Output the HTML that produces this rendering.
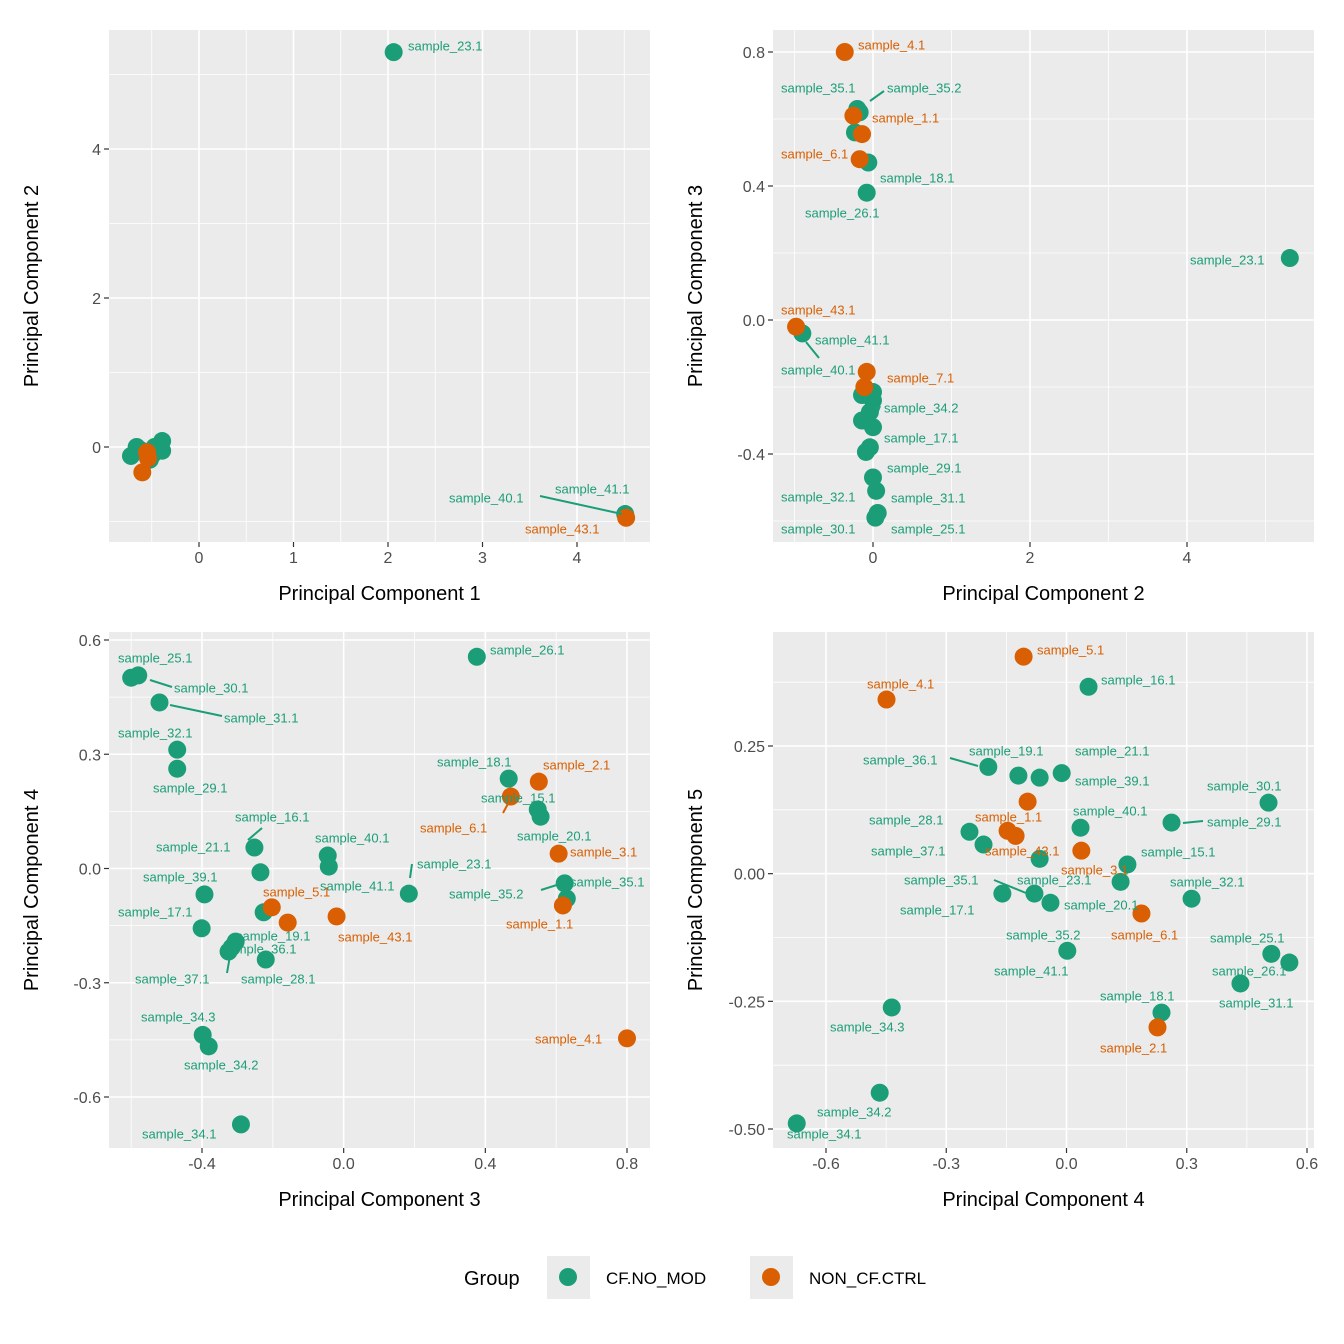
<!DOCTYPE html>
<html><head><meta charset="utf-8"><style>
html,body{margin:0;padding:0;background:#fff}
svg{display:block;font-family:"Liberation Sans",Arial,sans-serif}
</style></head><body>
<svg id="chart" width="1344" height="1344" viewBox="0 0 1344 1344" xmlns="http://www.w3.org/2000/svg">
<rect x="0" y="0" width="1344" height="1344" fill="#fff"/>
<g>
<text x="464" y="1285" font-size="20" fill="#000">Group</text>
<rect x="547" y="1256" width="43" height="43" fill="#ebebeb"/>
<circle cx="568" cy="1277" r="9" fill="#1B9E77"/>
<text x="606" y="1284" font-size="17" fill="#000">CF.NO_MOD</text>
<rect x="750" y="1256" width="43" height="43" fill="#ebebeb"/>
<circle cx="771" cy="1277" r="9" fill="#D95F02"/>
<text x="809" y="1284" font-size="17" fill="#000">NON_CF.CTRL</text>
</g>
</svg>
<script>
// ===== DATA =====
const p1x = [-0.72,-0.66,-0.62,-0.57,-0.52,-0.49,-0.47,-0.39,-0.39,2.06,4.51, -0.55,-0.60,-0.54,4.52];
const p1y = [-0.12,0,-0.04,-0.07,-0.17,-0.10,0,0.08,-0.05,5.30,-0.90, -0.07,-0.34,-0.15,-0.95];
const p1g = [0,0,0,0,0,0,0,0,0,0,0, 1,1,1,1];

const p2x = [-0.20,-0.17,-0.23,-0.06,-0.08,5.31,-0.90,0,-0.14,0,-0.14,-0.04,0,-0.09,-0.04,0,0.04,0.06,0.03, -0.36,-0.25,-0.14,-0.17,-0.98,-0.08,-0.11];
const p2y = [0.63,0.62,0.56,0.47,0.38,0.185,-0.04,-0.215,-0.224,-0.24,-0.30,-0.275,-0.32,-0.394,-0.38,-0.47,-0.51,-0.576,-0.59, 0.80,0.61,0.555,0.48,-0.02,-0.155,-0.20];
const p2g = [0,0,0,0,0,0,0,0,0,0,0,0,0,0,0,0,0,0,0, 1,1,1,1,1,1,1];

const p3x = [-0.60,-0.58,-0.52,-0.47,-0.47,0.376,0.466,0.548,0.556,-0.252,-0.235,-0.045,-0.042,0.184,0.624,0.630,-0.393,-0.226,-0.401,-0.305,-0.316,-0.325,-0.220,-0.398,-0.381,-0.290, 0.551,0.472,0.607,0.619,-0.203,-0.158,-0.020,0.800];
const p3y = [0.501,0.507,0.436,0.312,0.262,0.556,0.236,0.155,0.136,0.055,-0.010,0.034,0.005,-0.066,-0.039,-0.079,-0.068,-0.115,-0.157,-0.192,-0.207,-0.218,-0.239,-0.437,-0.467,-0.672, 0.228,0.189,0.039,-0.097,-0.102,-0.142,-0.126,-0.446];
const p3g = [0,0,0,0,0,0,0,0,0,0,0,0,0,0,0,0,0,0,0,0,0,0,0,0,0,0, 1,1,1,1,1,1,1,1];

const p4x = [0.055,-0.195,-0.120,-0.067,-0.012,0.504,0.262,0.035,-0.242,-0.207,-0.067,0.152,0.135,0.312,-0.160,-0.080,-0.040,0.002,0.511,0.556,0.434,-0.436,0.237,-0.466,-0.673, -0.107,-0.449,-0.097,-0.147,-0.127,0.037,0.187,0.227];
const p4y = [0.366,0.209,0.192,0.188,0.197,0.139,0.100,0.090,0.082,0.057,0.029,0.018,-0.016,-0.049,-0.039,-0.039,-0.057,-0.151,-0.157,-0.174,-0.215,-0.262,-0.272,-0.429,-0.489, 0.425,0.341,0.141,0.084,0.074,0.045,-0.078,-0.301];
const p4g = [0,0,0,0,0,0,0,0,0,0,0,0,0,0,0,0,0,0,0,0,0,0,0,0,0, 1,1,1,1,1,1,1,1];

const p1ticksX = [0,1,2,3,4];
const p1ticksY = [0,2,4];
const p2ticksX = [0,2,4];
const p2ticksY = [-0.4,0.0,0.4,0.8];
const p3ticksX = [-0.4,0.0,0.4,0.8];
const p3ticksY = [-0.6,-0.3,0.0,0.3,0.6];
const p4ticksX = [-0.6,-0.3,0.0,0.3,0.6];
const p4ticksY = [-0.50,-0.25,0.00,0.25];
const p1tickLbl = {x:["0","1","2","3","4"], y:["0","2","4"]};
const p2tickLbl = {x:["0","2","4"], y:["-0.4","0.0","0.4","0.8"]};
const p3tickLbl = {x:["-0.4","0.0","0.4","0.8"], y:["-0.6","-0.3","0.0","0.3","0.6"]};
const p4tickLbl = {x:["-0.6","-0.3","0.0","0.3","0.6"], y:["-0.50","-0.25","0.00","0.25"]};
const p1minX=[-0.5,0.5,1.5,2.5,3.5,4.5], p1minY=[-1,1,3,5];
const p2minX=[-1,1,3,5], p2minY=[-0.6,-0.2,0.2,0.6];
const p3minX=[-0.6,-0.2,0.2,0.6], p3minY=[-0.45,-0.15,0.15,0.45];
const p4minX=[-0.45,-0.15,0.15,0.45], p4minY=[-0.375,-0.125,0.125,0.375];

// label layout (text, pixel position, group, optional leader line)
const lab1 = [["sample_23.1",408,46,0],["sample_41.1",555,489,0],["sample_40.1",449,498,0,540,496,622,514],["sample_43.1",525,529,1]];
const lab2 = [["sample_4.1",858,45,1],["sample_35.1",781,88,0],["sample_35.2",887,88,0,870,101,884,91],["sample_1.1",872,118,1],["sample_6.1",781,154,1],["sample_18.1",880,178,0],["sample_26.1",805,213,0],["sample_23.1",1190,260,0],["sample_43.1",781,310,1],["sample_41.1",815,340,0],["sample_40.1",781,370,0,806,342,819,358],["sample_7.1",887,378,1],["sample_34.2",884,408,0,876,416,880,406],["sample_17.1",884,438,0],["sample_29.1",887,468,0],["sample_32.1",781,497,0],["sample_31.1",891,498,0],["sample_30.1",781,529,0],["sample_25.1",891,529,0]];
const lab3 = [["sample_25.1",118,658,0],["sample_30.1",174,688,0,150,680,172,687],["sample_31.1",224,718,0,170,705,222,716],["sample_32.1",118,733,0],["sample_29.1",153,788,0],["sample_26.1",490,650,0],["sample_18.1",437,762,0],["sample_2.1",543,765,1],["sample_15.1",481,798,0],["sample_6.1",420,828,1,503,813,510,800],["sample_20.1",517,836,0],["sample_16.1",235,817,0,248,840,262,828],["sample_21.1",156,847,0],["sample_40.1",315,838,0],["sample_23.1",417,864,0,410,878,412,864],["sample_3.1",570,852,1],["sample_39.1",143,877,0],["sample_35.1",570,882,0],["sample_35.2",449,894,0,541,890,560,884],["sample_41.1",320,886,0],["sample_5.1",263,892,1],["sample_17.1",118,912,0],["sample_19.1",236,936,0],["sample_1.1",506,924,1],["sample_43.1",338,937,1],["sample_36.1",222,949,0],["sample_37.1",135,979,0,227,973,231,950],["sample_28.1",241,979,0],["sample_34.3",141,1017,0],["sample_34.2",184,1065,0],["sample_34.1",142,1134,0],["sample_4.1",535,1039,1]];
const lab4 = [["sample_5.1",1037,650,1],["sample_16.1",1101,680,0],["sample_4.1",867,684,1],["sample_19.1",969,751,0],["sample_21.1",1075,751,0],["sample_36.1",863,760,0,950,758,978,766],["sample_39.1",1075,781,0],["sample_30.1",1207,786,0],["sample_40.1",1073,811,0],["sample_29.1",1207,822,0,1183,823,1203,821],["sample_28.1",869,820,0],["sample_1.1",975,817,1],["sample_37.1",871,851,0],["sample_43.1",985,851,1],["sample_15.1",1141,852,0],["sample_3.1",1061,870,1],["sample_35.1",904,880,0,994,880,1026,893],["sample_23.1",1017,880,0],["sample_32.1",1170,882,0],["sample_17.1",900,910,0],["sample_20.1",1064,905,0],["sample_6.1",1111,935,1],["sample_35.2",1006,935,0],["sample_25.1",1210,938,0],["sample_41.1",994,971,0],["sample_26.1",1212,971,0],["sample_31.1",1219,1003,0],["sample_18.1",1100,996,0],["sample_34.3",830,1027,0],["sample_2.1",1100,1048,1],["sample_34.2",817,1112,0],["sample_34.1",787,1134,0]];

// ===== RENDER =====
const NS="http://www.w3.org/2000/svg";
const svg=document.getElementById('chart');
const COLORS=["#1B9E77","#D95F02"];
function mk(tag,attrs,parent){const e=document.createElementNS(NS,tag);for(const k in attrs)e.setAttribute(k,attrs[k]);(parent||svg).appendChild(e);return e;}
function lin(d0,d1,r0,r1){return v=>r0+(v-d0)*(r1-r0)/(d1-d0);}

const panels=[
 {id:1,L:109,R:650,T:30,B:542,xd:[0,4],xr:[199,577],yd:[0,4],yr:[447,149],xs:p1x,ys:p1y,gs:p1g,tx:p1ticksX,ty:p1ticksY,tl:p1tickLbl,mx:p1minX,my:p1minY,labs:lab1,xt:"Principal Component 1",yt:"Principal Component 2"},
 {id:2,L:773,R:1314,T:30,B:542,xd:[0,4],xr:[873,1187],yd:[-0.4,0.8],yr:[454,52],xs:p2x,ys:p2y,gs:p2g,tx:p2ticksX,ty:p2ticksY,tl:p2tickLbl,mx:p2minX,my:p2minY,labs:lab2,xt:"Principal Component 2",yt:"Principal Component 3"},
 {id:3,L:109,R:650,T:632,B:1148,xd:[-0.4,0.8],xr:[202,627],yd:[-0.6,0.6],yr:[1097,640],xs:p3x,ys:p3y,gs:p3g,tx:p3ticksX,ty:p3ticksY,tl:p3tickLbl,mx:p3minX,my:p3minY,labs:lab3,xt:"Principal Component 3",yt:"Principal Component 4"},
 {id:4,L:773,R:1314,T:632,B:1148,xd:[-0.6,0.6],xr:[826,1307],yd:[-0.5,0.25],yr:[1129,746],xs:p4x,ys:p4y,gs:p4g,tx:p4ticksX,ty:p4ticksY,tl:p4tickLbl,mx:p4minX,my:p4minY,labs:lab4,xt:"Principal Component 4",yt:"Principal Component 5"}
];

panels.forEach(p=>{
 const X=lin(p.xd[0],p.xd[1],p.xr[0],p.xr[1]);
 const Y=lin(p.yd[0],p.yd[1],p.yr[0],p.yr[1]);
 const g=mk('g',{});
 
 
 const bg=mk('rect',{x:p.L,y:p.T,width:p.R-p.L,height:p.B-p.T,fill:'#ebebeb'},g);
 
 
 p.mx.forEach(v=>{const l=mk('line',{x1:X(v),x2:X(v),y1:p.T,y2:p.B,stroke:'#fff','stroke-width':0.8},g);
  
  });
 p.my.forEach(v=>{const l=mk('line',{y1:Y(v),y2:Y(v),x1:p.L,x2:p.R,stroke:'#fff','stroke-width':0.8},g);
  
  });
 p.tx.forEach((v,i)=>{
  const l=mk('line',{x1:X(v),x2:X(v),y1:p.T,y2:p.B,stroke:'#fff','stroke-width':1.6},g);
  
  
  const t=mk('line',{x1:X(v),x2:X(v),y1:p.B,y2:p.B+5,stroke:'#333','stroke-width':1.2},g);
  
  
  const tx=mk('text',{x:X(v),y:p.B+21,'font-size':16,fill:'#4d4d4d','text-anchor':'middle'},g);
  tx.textContent=p.tl.x[i];
  
  
 });
 p.ty.forEach((v,i)=>{
  const l=mk('line',{y1:Y(v),y2:Y(v),x1:p.L,x2:p.R,stroke:'#fff','stroke-width':1.6},g);
  
  
  const t=mk('line',{y1:Y(v),y2:Y(v),x1:p.L-5,x2:p.L,stroke:'#333','stroke-width':1.2},g);
  
  
  const tx=mk('text',{x:p.L-8,y:Y(v)+6,'font-size':16,fill:'#4d4d4d','text-anchor':'end'},g);
  tx.textContent=p.tl.y[i];
  
  
 });
 [0,1].forEach(grp=>{
  p.xs.forEach((v,i)=>{ if(p.gs[i]!==grp) return;
   const c=mk('circle',{cx:X(v),cy:Y(p.ys[i]),r:9,fill:COLORS[grp]},g);
   
   
  });
 });
 p.labs.forEach(a=>{
  if(a.length>4){const l=mk('line',{x1:a[4],y1:a[5],x2:a[6],y2:a[7],stroke:COLORS[a[3]],'stroke-width':2},g);
   
   }
  const t=mk('text',{x:a[1],y:a[2]+4.5,'font-size':13,fill:COLORS[a[3]]},g);
  t.textContent=a[0];
  
  
 });
 const xt=mk('text',{x:(p.L+p.R)/2,y:p.B+58,'font-size':20,fill:'#000','text-anchor':'middle'},g);
 xt.textContent=p.xt;
 
 
 const yx=p.L-71, yy=(p.T+p.B)/2;
 const yt=mk('text',{x:yx,y:yy,'font-size':20,fill:'#000','text-anchor':'middle',transform:'rotate(-90 '+yx+' '+yy+')'},g);
 yt.textContent=p.yt;
 
 
});
</script>
</body></html>
